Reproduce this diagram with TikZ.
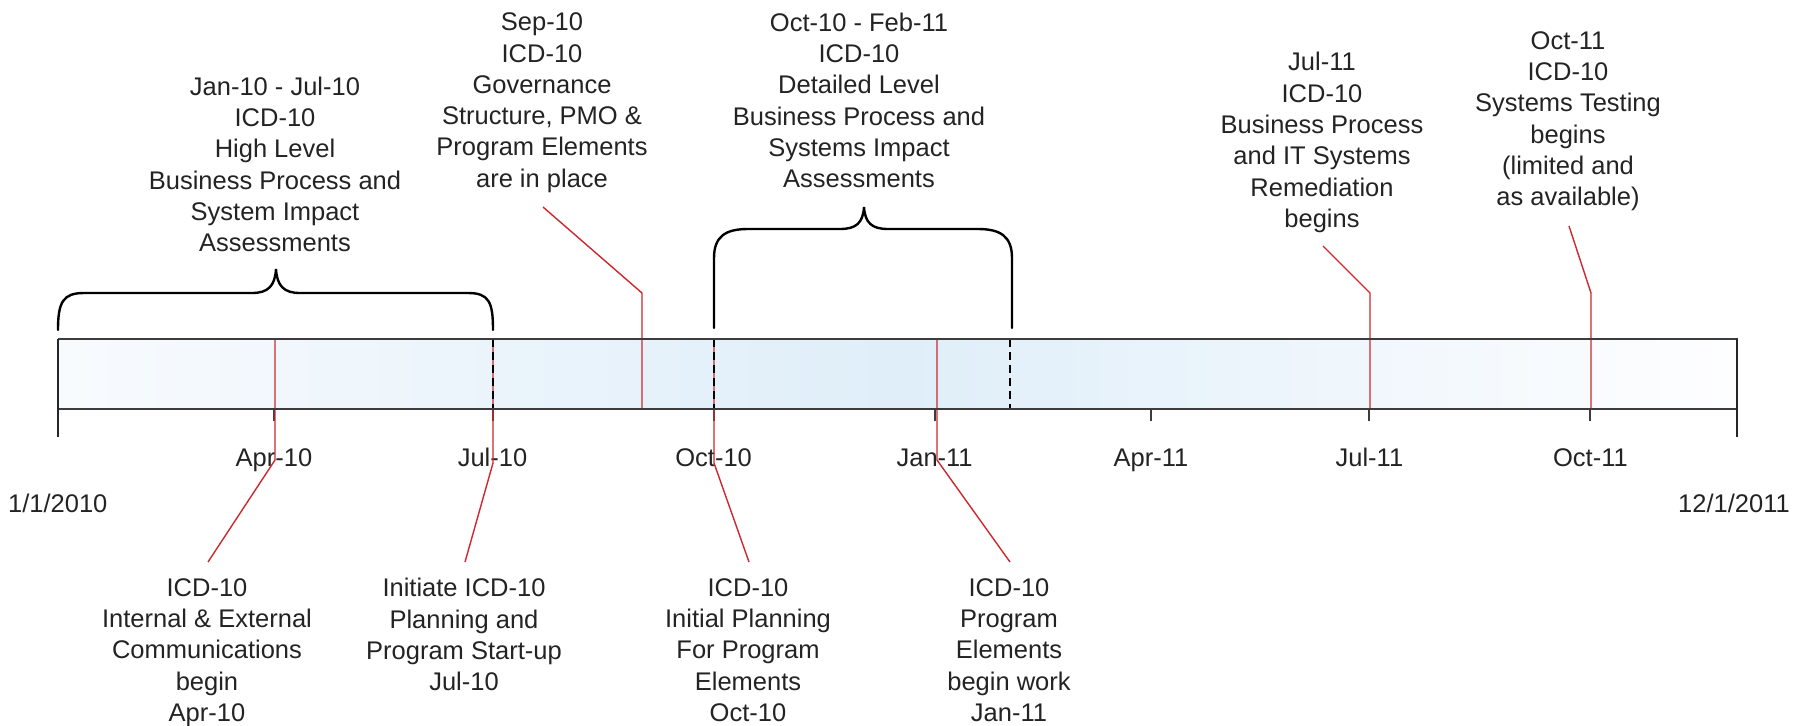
\documentclass[tikz,border=0pt]{standalone}
\usepackage{fontspec}
\newfontfamily\labfont{Liberation Sans}
\definecolor{redln}{RGB}{205,40,45}
\definecolor{barbd}{RGB}{60,60,60}
\definecolor{barL}{RGB}{248,251,254}
\definecolor{barM}{RGB}{223,238,249}
\definecolor{barR}{RGB}{254,254,255}
\definecolor{txt}{RGB}{35,35,35}
\tikzset{
  lbl/.style={font={\labfont\fontsize{12.75}{15.65}\selectfont}, align=center, inner sep=0pt, text=txt},
  redline/.style={draw=redln, line width=0.7pt},
  brace/.style={draw=black, line width=1.2pt, line cap=round},
  dashln/.style={draw=black, line width=0.9pt, dash pattern=on 4pt off 2.5pt},
  monthtick/.style={draw=barbd, line width=1pt},
  endln/.style={draw=black!85, line width=1pt}
}
\begin{document}
\begin{tikzpicture}[x=0.5pt,y=-0.5pt]
\useasboundingbox (0,0) rectangle (1810,725);
% bar
\node[inner sep=0pt, minimum width=839.65pt, minimum height=34.8pt, anchor=north west,
      left color=barL, right color=barR, middle color=barM] (bar) at (57.7,339) {};
% coordinates on the bar
\coordinate (Ltop) at (57.7,339);
\coordinate (Lbot) at (57.7,437);
\coordinate (Rtop) at (1737,339);
\coordinate (Rbot) at (1737,437);
% month ticks
\foreach \nm/\xx in {apr10/274,jul10/492.5,oct10/713.6,jan11/934.6,apr11/1151,jul11/1369.4,oct11/1590.4}{
  \coordinate (t\nm) at (\xx,408.6);
  \coordinate (u\nm) at (\xx,420.5);
  \draw[monthtick] (t\nm) -- (u\nm);
}
% tick labels
\node[lbl, anchor=base] (lapr10) at (274,466) {Apr-10};
\node[lbl, anchor=base] (ljul10) at (492.5,466) {Jul-10};
\node[lbl, anchor=base] (loct10) at (713.6,466) {Oct-10};
\node[lbl, anchor=base] (ljan11) at (934.6,466) {Jan-11};
\node[lbl, anchor=base] (lapr11) at (1151,466) {Apr-11};
\node[lbl, anchor=base] (ljul11) at (1369.4,466) {Jul-11};
\node[lbl, anchor=base] (loct11) at (1590.4,466) {Oct-11};
\node[lbl, anchor=base] (lstart) at (57.8,512.7) {1/1/2010};
\node[lbl, anchor=base] (lend) at (1734,512.7) {12/1/2011};
% top labels
\node[lbl, anchor=north] (T1) at (275,76.5) {Jan-10 - Jul-10\\ICD-10\\High Level\\Business Process and\\System Impact\\Assessments};
\node[lbl, anchor=north] (T2) at (542,12.5) {Sep-10\\ICD-10\\Governance\\Structure, PMO \&\\Program Elements\\are in place};
\node[lbl, anchor=north] (T3) at (859,12.5) {Oct-10 - Feb-11\\ICD-10\\Detailed Level\\Business Process and\\Systems Impact\\Assessments};
\node[lbl, anchor=north] (T4) at (1322,52) {Jul-11\\ICD-10\\Business Process\\and IT Systems\\Remediation\\begins};
\node[lbl, anchor=north] (T5) at (1568,31) {Oct-11\\ICD-10\\Systems Testing\\begins\\(limited and\\as available)};
% bottom labels
\node[lbl, anchor=north] (B1) at (207,578) {ICD-10\\Internal \& External\\Communications\\begin\\Apr-10};
\node[lbl, anchor=north] (B2) at (464,578) {Initiate ICD-10\\Planning and\\Program Start-up\\Jul-10};
\node[lbl, anchor=north] (B3) at (748,578) {ICD-10\\Initial Planning\\For Program\\Elements\\Oct-10};
\node[lbl, anchor=north] (B4) at (1009,578) {ICD-10\\Program\\Elements\\begin work\\Jan-11};
% milestone coordinates
\coordinate (mApr) at (275,339);   \coordinate (kApr) at (275,460);   \coordinate (eApr) at (208,562);
\coordinate (mJul) at (493,339);   \coordinate (kJul) at (493,463);   \coordinate (eJul) at (465,562);
\coordinate (mOct) at (714,339);   \coordinate (kOct) at (714,463);   \coordinate (eOct) at (749,562);
\coordinate (mJan) at (937,339);   \coordinate (kJan) at (937,460);   \coordinate (eJan) at (1010,562);
\coordinate (mSep) at (642,408.6); \coordinate (kSep) at (642,293);   \coordinate (eSep) at (543,207);
\coordinate (mJl1) at (1370,408.6);\coordinate (kJl1) at (1370,293);  \coordinate (eJl1) at (1323,246);
\coordinate (mOc1) at (1591,408.6);\coordinate (kOc1) at (1591,293);  \coordinate (eOc1) at (1569,226);
% dashed brace markers
\coordinate (dJulT) at (493,339);  \coordinate (dJulB) at (493,408.6);
\coordinate (dOctT) at (714,339);  \coordinate (dOctB) at (714,408.6);
\coordinate (dFebT) at (1010,339); \coordinate (dFebB) at (1010,408.6);
% red connectors
\draw[redline] (mApr) -- (kApr) -- (eApr);
\draw[redline] (mJul) -- (kJul) -- (eJul);
\draw[redline] (mOct) -- (kOct) -- (eOct);
\draw[redline] (mJan) -- (kJan) -- (eJan);
\draw[redline] (mSep) -- (kSep) -- (eSep);
\draw[redline] (mJl1) -- (kJl1) -- (eJl1);
\draw[redline] (mOc1) -- (kOc1) -- (eOc1);
% dashed lines
\draw[dashln] (dJulT) -- (dJulB);
\draw[dashln] (dOctT) -- (dOctB);
\draw[dashln] (dFebT) -- (dFebB);
% bar borders
\draw[draw=barbd, line width=1pt] (bar.north west) -- (bar.north east);
\draw[draw=barbd, line width=1pt] (bar.south west) -- (bar.south east);
\draw[endln] (Ltop) -- (Lbot);
\draw[endln] (Rtop) -- (Rbot);
% braces
\draw[brace] (58,330) .. controls (58,302) and (63,293) .. (84,293) -- (252,293)
  .. controls (268,293) and (275,286) .. (276,269)
  .. controls (277,286) and (284,293) .. (300,293) -- (468,293)
  .. controls (489,293) and (493,302) .. (493,330);
\draw[brace] (714,328) -- (714,258) .. controls (714,236) and (726,229) .. (748,229) -- (840,229)
  .. controls (856,229) and (863,223) .. (864,207)
  .. controls (865,223) and (872,229) .. (888,229) -- (978,229)
  .. controls (1000,229) and (1012,236) .. (1012,258) -- (1012,328);
\end{tikzpicture}
\end{document}
